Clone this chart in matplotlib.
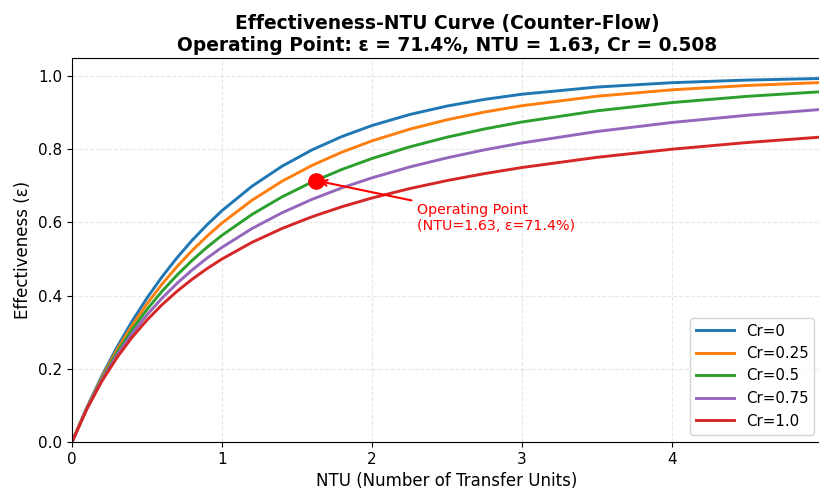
import matplotlib
matplotlib.use('Agg')
import matplotlib.pyplot as plt

# NTU grid and effectiveness
ntu = [0, 0.1, 0.2, 0.3, 0.4, 0.5, 0.6, 0.7, 0.8, 0.9, 1.0, 1.2, 1.4, 1.6, 1.8,
       2.0, 2.25, 2.5, 2.75, 3.0, 3.5, 4.0, 4.5, 5.0]

eff_cr0 = [0, 0.0952, 0.1813, 0.2592, 0.3297, 0.3935, 0.4512, 0.5034, 0.5507, 0.5934,
           0.6321, 0.6988, 0.7534, 0.7981, 0.8347, 0.8647, 0.8946, 0.9179, 0.9361,
           0.9502, 0.9698, 0.9817, 0.9889, 0.9933]
eff_cr025 = [0, 0.0941, 0.1775, 0.2517, 0.3181, 0.3776, 0.4311, 0.4793, 0.5229, 0.5624,
             0.5983, 0.6606, 0.7124, 0.7557, 0.7921, 0.8228, 0.8545, 0.8804, 0.9015,
             0.9188, 0.9447, 0.9622, 0.9741, 0.9823]
eff_cr05 = [0, 0.0930, 0.1738, 0.2445, 0.3069, 0.3623, 0.4117, 0.4560, 0.4959, 0.5320,
            0.5647, 0.6218, 0.6697, 0.7102, 0.7448, 0.7746, 0.8062, 0.8328, 0.8553,
            0.8744, 0.9049, 0.9274, 0.9444, 0.9572]
eff_cr075 = [0, 0.0920, 0.1702, 0.2375, 0.2961, 0.3475, 0.3930, 0.4334, 0.4697, 0.5023,
             0.5319, 0.5832, 0.6263, 0.6630, 0.6945, 0.7218, 0.7513, 0.7764, 0.7982,
             0.8171, 0.8484, 0.8730, 0.8927, 0.9088]
eff_cr1 = [0, 0.0909, 0.1667, 0.2308, 0.2857, 0.3333, 0.3750, 0.4118, 0.4444, 0.4737,
           0.5000, 0.5455, 0.5833, 0.6154, 0.6429, 0.6667, 0.6923, 0.7143, 0.7333,
           0.7500, 0.7778, 0.8000, 0.8182, 0.8333]

labels = ['Cr=0', 'Cr=0.25', 'Cr=0.5', 'Cr=0.75', 'Cr=1.0']
series = [eff_cr0, eff_cr025, eff_cr05, eff_cr075, eff_cr1]
colors = ['tab:blue', 'tab:orange', 'tab:green', 'tab:purple', 'tab:red']

op_ntu = 1.63
op_eff = 0.714
op_cr = 0.508

fig = plt.figure(figsize=(8.2, 4.93), dpi=100)
ax = fig.add_axes([72 / 820, 51 / 493, 750 / 820, 384.3 / 493])

for eff, lab, col in zip(series, labels, colors):
    ax.plot(ntu, eff, linewidth=2.1, label=lab, color=col)

ax.annotate(f'Operating Point\n(NTU={op_ntu:.2f}, ε={op_eff*100:.1f}%)',
            xy=(op_ntu, op_eff), xytext=(op_ntu + 0.67, op_eff - 0.135),
            color='red', fontsize=10.3,
            arrowprops=dict(arrowstyle='->', color='red', lw=1.5))
ax.plot(op_ntu, op_eff, 'o', color='red', markersize=11, zorder=5)

ax.set_xlim(0, 5)
ax.set_ylim(0, 1.05)
ax.set_xticks([0, 1, 2, 3, 4])
ax.tick_params(labelsize=11)
ax.set_xlabel('NTU (Number of Transfer Units)', fontsize=12)
ax.set_ylabel('Effectiveness (ε)', fontsize=12)
ax.set_title(f'Effectiveness-NTU Curve (Counter-Flow)\n'
             f'Operating Point: ε = {op_eff*100:.1f}%, NTU = {op_ntu:.2f}, Cr = {op_cr:.3f}',
             fontsize=13.4, fontweight='bold', pad=5)
ax.grid(True, linestyle='--', alpha=0.3)
ax.legend(loc='lower right', fontsize=10.8, handlelength=2.5)

fig.savefig('out.png', dpi=100)
